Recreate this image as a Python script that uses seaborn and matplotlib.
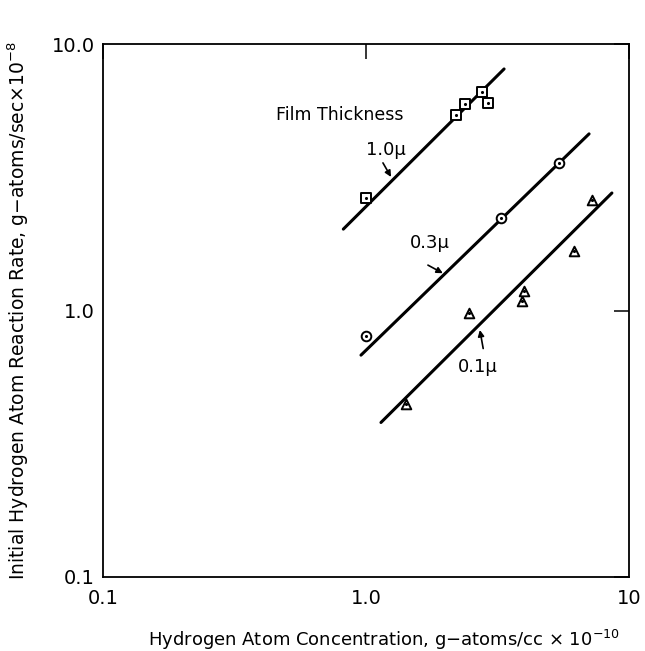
import matplotlib
matplotlib.use("Agg")
import matplotlib.pyplot as plt
import seaborn as sns
import pandas as pd

# ---- data ----
x_10 = [1.0, 2.2, 2.38, 2.76, 2.91]
y_10 = [2.64, 5.41, 5.95, 6.6, 5.99]
x_03 = [1.0, 3.26, 5.42]
y_03 = [0.80, 2.22, 3.58]
x_01 = [1.42, 2.46, 3.92, 3.99, 6.17, 7.23]
y_01 = [0.446, 0.98, 1.09, 1.18, 1.67, 2.6]

# fitted lines (end points)
line_x_10 = [0.82, 3.35]
line_y_10 = [2.02, 8.06]
line_x_03 = [0.957, 7.05]
line_y_03 = [0.68, 4.6]
line_x_01 = [1.14, 8.61]
line_y_01 = [0.38, 2.76]

x_ticks = [0.1, 1.0, 10]
x_ticklabels = ["0.1", "1.0", "10"]
y_ticks = [0.1, 1.0, 10.0]
y_ticklabels = ["0.1", "1.0", "10.0"]

sns.set_style("white")
plt.rcParams['font.family'] = ['DejaVu Sans']
plt.rcParams['text.color'] = 'black'
plt.rcParams['axes.labelcolor'] = 'black'
plt.rcParams['xtick.color'] = 'black'
plt.rcParams['ytick.color'] = 'black'

fig = plt.figure(figsize=(6.45, 6.51), dpi=100)
ax = fig.add_axes([103/645, 1 - 577/651, 526/645, 533/651])

lines = [(line_x_10, line_y_10), (line_x_03, line_y_03), (line_x_01, line_y_01)]
for lx, ly in lines:
    sns.lineplot(x=lx, y=ly, ax=ax, color="black", linewidth=2.2,
                 solid_capstyle="round", zorder=2)

pts = [(x_10, y_10, "s"), (x_03, y_03, "o"), (x_01, y_01, "^")]
for px, py, m in pts:
    df = pd.DataFrame({"x": px, "y": py})
    sns.scatterplot(data=df, x="x", y="y", ax=ax, marker=m, s=48,
                    facecolor="white", edgecolor="black", linewidth=1.4,
                    zorder=3)
    sns.scatterplot(data=df, x="x", y="y", ax=ax, marker="o", s=5,
                    color="black", linewidth=0, zorder=4)

ax.set_xscale("log")
ax.set_yscale("log")
ax.set_xlim(0.1, 10)
ax.set_ylim(0.1, 10)
ax.set_xticks(x_ticks)
ax.set_xticklabels(x_ticklabels)
ax.set_yticks(y_ticks)
ax.set_yticklabels(y_ticklabels)
ax.minorticks_off()
ax.tick_params(axis="both", which="major", direction="in", length=11,
               width=1.1, labelsize=14, top=True, right=True, pad=6)
ax.tick_params(axis="x", pad=9)
for s in ax.spines.values():
    s.set_linewidth(1.3)
    s.set_color("black")

ax.set_xlabel("Hydrogen Atom Concentration, g$-$atoms/cc $\\times$ 10$^{-10}$",
              fontsize=13)
ax.set_ylabel("Initial Hydrogen Atom Reaction Rate, g$-$atoms/sec$\\times$10$^{-8}$",
              fontsize=13.5)
ax.xaxis.set_label_coords(0.534, -0.095)
ax.yaxis.set_label_coords(-0.137, 0.5)

ax.text(0.796, 5.41, "Film Thickness", fontsize=12.5, ha="center", va="center")
ax.text(1.19, 4.0, "1.0\u03bc", fontsize=13, ha="center", va="center")
ax.text(1.75, 1.79, "0.3\u03bc", fontsize=13, ha="center", va="center")
ax.text(2.67, 0.614, "0.1\u03bc", fontsize=13, ha="center", va="center")

arrows = [((1.16, 3.58), (1.245, 3.17)),
          ((1.72, 1.48), (1.96, 1.38)),
          ((2.79, 0.72), (2.71, 0.845))]
for tail, head in arrows:
    ax.annotate("", xy=head, xytext=tail,
                arrowprops=dict(arrowstyle="-|>", color="black", lw=1.2,
                                mutation_scale=9, shrinkA=0, shrinkB=0))

fig.savefig("out.png", dpi=100)
